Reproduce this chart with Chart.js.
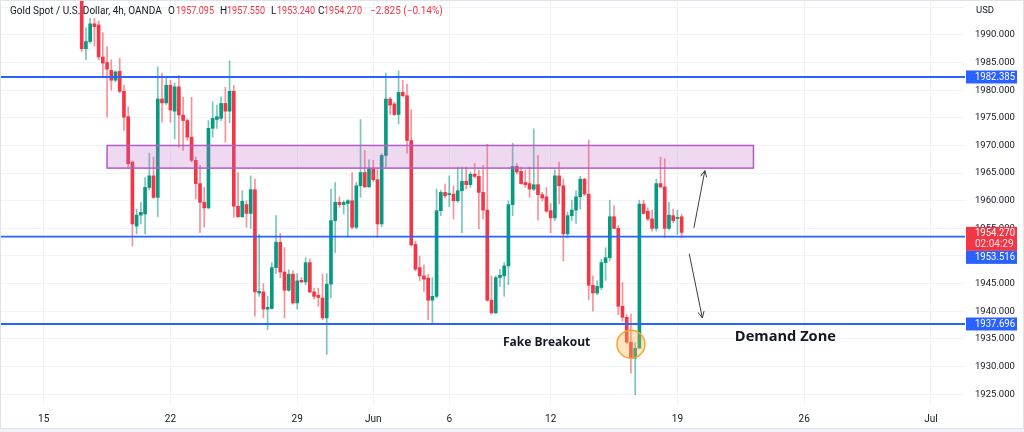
<!DOCTYPE html>
<html>
<head>
<meta charset="utf-8">
<script src="https://cdn.jsdelivr.net/npm/chart.js@4.4.0/dist/chart.umd.min.js"></script>
<style>
  html, body { margin: 0; padding: 0; background: #fff; }
</style>
</head>
<body>
<canvas id="chart" width="1024" height="432"></canvas>
<script>
// 4h candles, one per bar index
const opens = [1997.5,1987.5,1988.8,1992.0,1991.8,1986.0,1985.0,1983.6,1981.8,1983.4,1979.8,1975.2,1967.0,1955.4,1957.4,1957.6,1962.4,1964.5,1960.6,1978.4,
  1977.7,1980.9,1976.2,1980.6,1975.5,1974.5,1971.5,1967.3,1963.1,1959.7,1958.7,1973.1,1974.7,1974.9,1977.6,1976.2,1979.8,1959.0,1957.1,1959.3,
  1957.7,1962.0,1943.3,1943.5,1940.4,1940.5,1947.9,1952.5,1947.1,1943.8,1946.7,1941.5,1945.6,1945.3,1948.8,1943.5,1942.9,1942.4,1938.8,1944.9,
  1956.4,1959.7,1959.3,1959.5,1960.0,1955.2,1962.7,1965.1,1962.5,1965.8,1963.8,1955.8,1968.2,1978.4,1977.5,1975.6,1979.6,1979.0,1970.9,1952.1,
  1947.9,1946.4,1946.0,1942.0,1942.7,1958.2,1961.5,1961.1,1961.2,1960.0,1961.8,1963.5,1962.9,1964.8,1964.4,1961.5,1958.3,1942.0,1939.7,1946.1,
  1946.4,1948.2,1959.3,1966.2,1965.3,1963.3,1963.1,1962.1,1962.9,1961.1,1960.7,1958.2,1956.9,1964.5,1962.7,1954.0,1957.3,1958.3,1960.7,1963.9,
  1961.2,1944.7,1943.3,1944.3,1948.8,1949.7,1957.1,1955.0,1940.9,1938.9,1934.4,1931.5,1933.3,1959.4,1958.1,1956.7,1955.0,1963.1,1962.5,1955.0,
  1957.3,1956.8,1957.095];
const highs = [1998.5,1991.3,1993.0,1993.0,1992.5,1990.4,1987.9,1985.5,1983.5,1985.8,1980.9,1977.0,1967.2,1958.5,1959.7,1964.2,1968.6,1967.9,1984.2,1983.1,
  1982.2,1981.8,1981.3,1982.7,1978.7,1974.8,1978.7,1967.9,1966.4,1962.4,1974.5,1977.9,1977.3,1978.8,1980.5,1985.3,1980.9,1965.1,1961.8,1960.0,
  1964.5,1963.9,1953.9,1945.0,1942.7,1948.8,1957.3,1954.1,1951.5,1947.5,1947.3,1946.8,1946.1,1949.7,1949.5,1944.2,1944.2,1946.7,1946.8,1962.1,
  1963.3,1960.7,1960.0,1960.2,1965.1,1963.3,1974.7,1969.1,1967.4,1967.3,1965.8,1968.5,1983.1,1978.7,1977.8,1983.5,1981.8,1981.1,1976.5,1952.7,
  1950.0,1948.4,1946.7,1946.1,1962.1,1961.9,1963.0,1964.5,1962.7,1966.1,1966.1,1966.1,1965.2,1966.7,1965.5,1966.4,1970.2,1946.4,1946.4,1947.6,
  1948.8,1960.0,1970.4,1966.7,1966.1,1965.5,1966.1,1973.0,1968.2,1961.5,1962.4,1959.5,1965.6,1967.0,1963.9,1957.9,1960.1,1961.8,1964.4,1964.1,
  1971.0,1946.4,1945.5,1949.4,1951.5,1960.1,1959.1,1955.5,1945.2,1939.4,1939.5,1934.3,1960.1,1960.1,1958.7,1958.3,1963.9,1967.9,1967.6,1959.7,
  1958.5,1958.3,1957.55];
const lows = [1987.0,1985.5,1988.5,1988.0,1985.5,1982.4,1975.1,1980.0,1981.5,1979.5,1972.7,1966.0,1951.8,1954.0,1955.8,1954.0,1962.0,1960.4,1957.1,1974.2,
  1977.4,1974.2,1971.2,1969.7,1969.1,1970.9,1967.0,1960.3,1954.2,1955.2,1958.5,1971.5,1973.1,1974.5,1970.6,1974.1,1957.0,1957.0,1957.0,1955.2,
  1955.0,1939.1,1942.7,1938.8,1936.7,1940.4,1946.8,1946.1,1938.8,1943.6,1941.3,1940.4,1945.2,1944.8,1943.3,1942.2,1940.9,1938.5,1932.2,1942.4,
  1950.6,1958.8,1957.6,1953.6,1954.9,1954.9,1960.6,1962.4,1962.4,1963.5,1953.3,1955.3,1966.1,1975.6,1975.4,1973.9,1978.8,1968.6,1951.8,1947.3,
  1945.5,1943.6,1938.5,1937.9,1942.4,1957.3,1960.5,1958.9,1956.7,1959.7,1954.2,1962.1,1962.4,1964.1,1954.9,1956.7,1941.8,1939.5,1939.6,1944.5,
  1942.7,1944.8,1957.3,1964.8,1963.0,1962.4,1960.6,1961.8,1956.5,1960.0,1957.9,1954.2,1956.4,1959.4,1949.1,1953.3,1956.4,1955.9,1958.5,1960.9,
  1942.1,1940.0,1943.0,1943.9,1945.6,1949.1,1954.9,1939.4,1938.2,1934.1,1928.8,1924.9,1933.3,1957.6,1956.4,1954.5,1954.5,1962.3,1953.3,1954.7,
  1956.0,1953.9,1953.24];
const closes = [1987.5,1988.8,1992.0,1991.5,1986.0,1984.9,1983.8,1981.8,1983.3,1979.8,1975.1,1966.7,1955.8,1957.4,1957.9,1962.4,1964.5,1960.6,1978.4,1977.7,
  1980.9,1976.4,1980.6,1975.5,1974.5,1971.5,1967.3,1963.1,1959.7,1958.7,1973.1,1974.9,1975.2,1977.6,1976.2,1979.8,1959.0,1957.1,1959.9,1957.7,
  1962.0,1943.5,1943.6,1940.4,1940.7,1947.9,1952.5,1947.1,1943.8,1946.7,1941.5,1945.5,1945.3,1948.8,1943.5,1942.7,1942.5,1938.8,1944.9,1956.4,
  1959.7,1959.3,1959.7,1960.0,1955.2,1962.7,1965.1,1962.5,1965.8,1963.8,1955.8,1968.2,1978.4,1977.3,1975.6,1979.6,1979.0,1970.9,1952.0,1947.6,
  1946.4,1945.8,1942.0,1942.7,1958.2,1961.5,1960.9,1961.3,1960.0,1961.8,1963.5,1962.9,1964.8,1964.4,1961.5,1958.3,1942.0,1939.7,1946.1,1946.5,
  1948.2,1959.3,1966.2,1965.2,1963.1,1962.9,1962.1,1962.9,1961.1,1960.5,1958.1,1956.9,1964.5,1962.7,1954.0,1957.3,1958.3,1960.7,1963.9,1961.2,
  1944.7,1943.3,1944.5,1948.8,1949.7,1957.1,1955.0,1940.9,1938.9,1934.4,1931.5,1933.3,1959.4,1957.7,1956.7,1955.0,1963.1,1962.5,1955.0,1957.4,
  1956.4,1957.0,1954.27];

// date ticks (bar index of the first bar of that day)
const dayTicks = [-9, 21, 51, 69, 87, 111, 141, 171, 201];
const dayLabels = ['15', '22', '29', 'Jun', '6', '12', '19', '26', 'Jul'];
const priceTicks = [1925, 1930, 1935, 1940, 1945, 1950, 1955, 1960, 1965, 1970, 1975, 1980, 1985, 1990, 1995];

// horizontal support / resistance lines
const levels = [1982.385, 1953.516, 1937.696];
const lastPrice = 1954.27;

const UP = '#089981', DOWN = '#f23645';
const UP_WICK = 'rgba(8,153,129,0.55)', DOWN_WICK = 'rgba(242,54,69,0.55)';
const FONT = 'Roboto, "Noto Sans", sans-serif';

const xMin = -19.34, xMax = 209.07;
const yMin = 1923.04, yMax = 1996.315;

const wickData = highs.map((h, i) => ({ x: i, y: [lows[i], h] }));
const bodyData = opens.map((o, i) => ({ x: i, y: [o, closes[i]] }));
const isUp = opens.map((o, i) => closes[i] >= o);

const levelSets = levels.map(l => ({
  type: 'line',
  data: [{ x: xMin, y: l }, { x: xMax, y: l }],
  borderColor: '#2962ff',
  borderWidth: 1.8,
  pointRadius: 0,
  order: 0
}));

function arrow(ctx, x1, y1, x2, y2) {
  ctx.beginPath(); ctx.moveTo(x1, y1); ctx.lineTo(x2, y2); ctx.stroke();
  const a = Math.atan2(y2 - y1, x2 - x1), L = 7;
  ctx.beginPath();
  ctx.moveTo(x2 - L * Math.cos(a - 0.45), y2 - L * Math.sin(a - 0.45));
  ctx.lineTo(x2, y2);
  ctx.lineTo(x2 - L * Math.cos(a + 0.45), y2 - L * Math.sin(a + 0.45));
  ctx.stroke();
}

const overlay = {
  id: 'overlay',
  afterDatasetsDraw(chart) {
    const { ctx, chartArea: a } = chart;
    const x = chart.scales.x, y = chart.scales.y;
    ctx.save();
    ctx.beginPath(); ctx.rect(a.left, a.top, a.right - a.left, a.bottom - a.top); ctx.clip();

    // supply box
    const bx1 = x.getPixelForValue(6), bx2 = x.getPixelForValue(159);
    const by1 = y.getPixelForValue(1970.0), by2 = y.getPixelForValue(1965.9);
    ctx.fillStyle = 'rgba(186,104,200,0.25)';
    ctx.fillRect(bx1, by1, bx2 - bx1, by2 - by1);
    ctx.strokeStyle = '#b35dc6'; ctx.lineWidth = 1.5;
    ctx.strokeRect(bx1, by1, bx2 - bx1, by2 - by1);

    // fake breakout circle
    ctx.beginPath();
    ctx.arc(x.getPixelForValue(130), y.getPixelForValue(1934.05), 14, 0, Math.PI * 2);
    ctx.fillStyle = 'rgba(255,183,77,0.35)'; ctx.fill();
    ctx.strokeStyle = '#f7a531'; ctx.lineWidth = 1.5; ctx.stroke();

    // arrows
    ctx.strokeStyle = '#3d3d3d'; ctx.lineWidth = 1;
    arrow(ctx, x.getPixelForValue(144.9), y.getPixelForValue(1955.1), x.getPixelForValue(147.5), y.getPixelForValue(1965.45));
    arrow(ctx, x.getPixelForValue(143.8), y.getPixelForValue(1950.4), x.getPixelForValue(146.9), y.getPixelForValue(1938.8));

    // notes
    ctx.fillStyle = '#131722';
    ctx.textBaseline = 'middle'; ctx.textAlign = 'left';
    ctx.font = 'bold 12px "Open Sans", ' + FONT;
    ctx.fillText('Fake Breakout', x.getPixelForValue(99.7), y.getPixelForValue(1934.4), 90);
    ctx.font = 'bold 15px "Open Sans", ' + FONT;
    ctx.fillText('Demand Zone', x.getPixelForValue(154.6), y.getPixelForValue(1935.45), 101);
    ctx.restore();
  },
  afterDraw(chart) {
    const { ctx, chartArea: a } = chart;
    const y = chart.scales.y;
    ctx.save();
    ctx.textBaseline = 'middle'; ctx.textAlign = 'left';

    // price scale labels
    const box = (v, py, bg) => {
      ctx.fillStyle = bg;
      ctx.fillRect(a.right + 1, py - 6.5, 51, 13);
      ctx.fillStyle = '#fff';
      ctx.font = '10px ' + FONT;
      ctx.fillText(v.toFixed(3), 975, py + 0.5, 40);
    };
    const pr = y.getPixelForValue(lastPrice);
    box(levels[0], y.getPixelForValue(levels[0]), '#2962ff');
    box(levels[2], y.getPixelForValue(levels[2]), '#2962ff');
    ctx.fillStyle = DOWN;
    ctx.fillRect(a.right + 1, pr - 5.5, 51, 24);
    ctx.fillStyle = '#fff'; ctx.font = '10px ' + FONT;
    ctx.fillText(lastPrice.toFixed(3), 975, pr + 1, 40);
    ctx.fillStyle = 'rgba(255,255,255,0.85)';
    ctx.fillText('02:04:29', 975, pr + 12.5, 40);
    box(levels[1], pr + 25, '#2962ff');

    ctx.fillStyle = '#131722'; ctx.font = '9.5px ' + FONT;
    ctx.fillText('USD', 976, 11);

    // header
    ctx.font = '10px ' + FONT;
    ctx.fillStyle = '#131722';
    ctx.fillText('Gold Spot / U.S. Dollar, 4h, OANDA', 10, 11, 152);
    const parts = [['O', 168, '1957.095', 176], ['H', 220, '1957.550', 227], ['L', 271, '1953.240', 277], ['C', 318, '1954.270', 324]];
    parts.forEach(p => {
      ctx.fillStyle = '#131722'; ctx.fillText(p[0], p[1], 11);
      ctx.fillStyle = DOWN; ctx.fillText(p[2], p[3], 11, 38);
    });
    ctx.fillText('\u22122.825 (\u22120.14%)', 370, 11, 74);

    // frame
    ctx.strokeStyle = '#e0e3eb'; ctx.lineWidth = 1;
    ctx.strokeRect(0.5, 0.5, 1023, 428);
    ctx.fillStyle = '#f0f3fa';
    ctx.fillRect(0, 429, 1024, 3);
    ctx.restore();
  }
};

new Chart(document.getElementById('chart'), {
  data: {
    datasets: [
      { type: 'bar', data: bodyData, backgroundColor: isUp.map(u => u ? UP : DOWN), barThickness: 3, minBarLength: 1, grouped: false, order: 1 },
      { type: 'bar', data: wickData, backgroundColor: isUp.map(u => u ? UP_WICK : DOWN_WICK), barThickness: 1, grouped: false, order: 2 },
      ...levelSets
    ]
  },
  options: {
    responsive: false,
    animation: false,
    layout: { padding: 0 },
    plugins: { legend: { display: false }, tooltip: { enabled: false } },
    scales: {
      x: {
        type: 'linear', min: xMin, max: xMax, offset: false,
        grid: { color: '#f0f3fa', drawTicks: false, offset: false },
        border: { display: false },
        afterBuildTicks: s => { s.ticks = dayTicks.map(v => ({ value: v })); },
        afterFit: s => { s.height = 27; s.paddingLeft = 0; s.paddingRight = 0; },
        ticks: {
          autoSkip: false, maxRotation: 0, padding: 8,
          color: '#131722', font: { family: FONT, size: 10 },
          callback: (v, i) => dayLabels[i]
        }
      },
      y: {
        position: 'right', min: yMin, max: yMax,
        grid: { color: '#f0f3fa', drawTicks: false },
        border: { display: false },
        afterBuildTicks: s => { s.ticks = priceTicks.map(v => ({ value: v })); },
        afterFit: s => { s.width = 59; s.paddingTop = 0; s.paddingBottom = 0; },
        ticks: {
          padding: 10,
          color: '#131722', font: { family: FONT, size: 9.5 },
          callback: v => v === 1995 ? '' : v.toFixed(3)
        }
      }
    }
  },
  plugins: [overlay]
});
</script>
</body>
</html>
